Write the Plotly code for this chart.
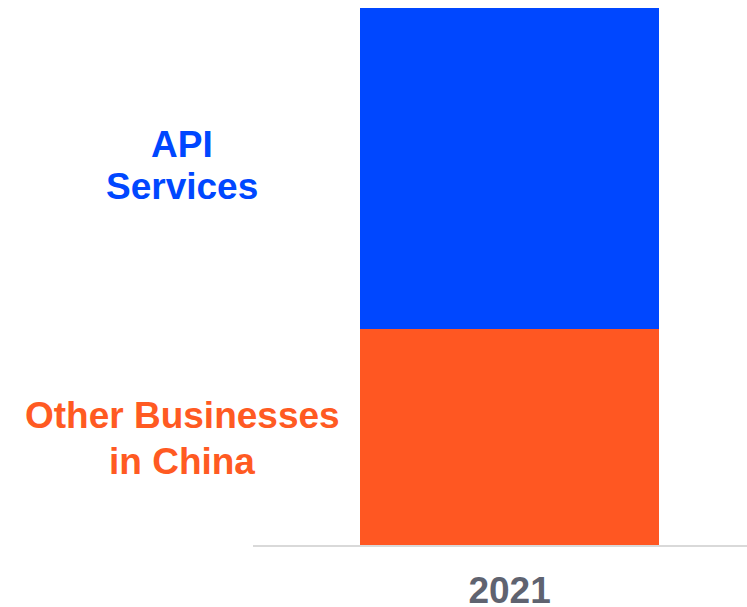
import plotly.graph_objects as go

# Revenue mix for 2021 (share of total, %)
years = ["2021"]
segments = ["Other Businesses in China", "API Services"]
shares = [40.2, 59.8]
colors = ["#FF5722", "#0047FF"]
label_colors = ["#FF5A22", "#0047FF"]

# Each segment label is split over two lines; offsets (px) from segment centre
label_lines = [["Other Businesses", "in China"], ["API", "Services"]]
line_offsets = [[22, -24], [24, -18]]

fig = go.Figure()
for name, val, col in zip(segments, shares, colors):
    fig.add_trace(go.Bar(
        x=years, y=[val], name=name,
        marker=dict(color=col, line=dict(width=0)),
        width=1.0, showlegend=False, hoverinfo="skip",
    ))

# Segment labels to the left of the bar, centred on each segment
base = 0
for lines, offs, val, col in zip(label_lines, line_offsets, shares, label_colors):
    for text, dy in zip(lines, offs):
        fig.add_annotation(
            x=-0.1437, xref="paper", y=base + val / 2, yref="y", yshift=dy,
            text=f"<b>{text}</b>", showarrow=False,
            font=dict(family="Liberation Sans, Arial", size=37, color=col),
            xanchor="center", yanchor="middle", align="center",
        )
    base += val

fig.update_layout(
    barmode="stack",
    width=747, height=607,
    margin=dict(l=253, r=0, t=8, b=62, autoexpand=False),
    paper_bgcolor="white", plot_bgcolor="white",
    font=dict(family="Liberation Sans, Arial"),
    xaxis=dict(
        type="category", range=[-0.858, 0.794], automargin=False,
        showline=True, linecolor="#D9D9D9", linewidth=2,
        showgrid=False, zeroline=False, ticks="",
        tickfont=dict(size=37, color="#5F6370", family="Liberation Sans, Arial", weight="bold"),
        ticklabelstandoff=12,
    ),
    yaxis=dict(range=[0, sum(shares)], visible=False, showgrid=False, zeroline=False),
)

fig.write_html("out.html")
